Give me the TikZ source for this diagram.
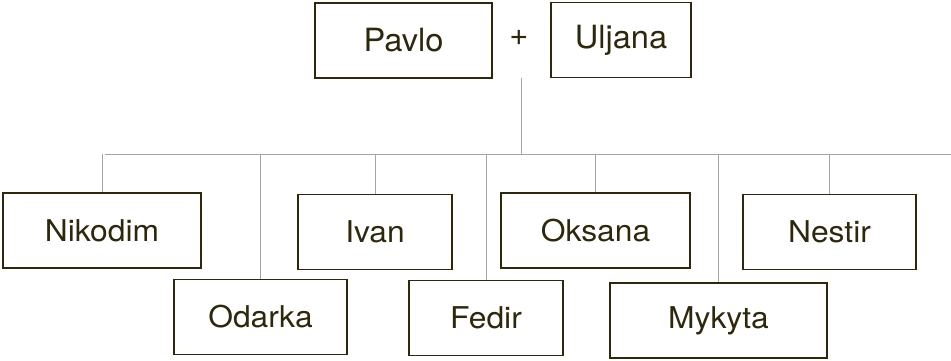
\documentclass[tikz,border=0pt]{standalone}
\usepackage{fontspec}
\setmainfont{TeX Gyre Heros}[FakeStretch=1.06]
\newfontfamily\topfont{TeX Gyre Heros}[FakeStretch=1.02]
\definecolor{ink}{RGB}{45,40,12}
\definecolor{wire}{RGB}{165,165,165}
\begin{document}
\begin{tikzpicture}[x=1pt,y=-1pt,
  person/.style={draw=ink,line width=1.6pt,text=ink,font=\fontsize{30}{36}\selectfont,inner sep=0pt,minimum width=#1,minimum height=75pt},
  parent/.style={person=#1,font=\topfont\fontsize{32}{38}\selectfont},
  conn/.style={draw=wire,line width=1pt}]
\useasboundingbox (0,0) rectangle (951,360);
\node[parent=177pt] (pavlo) at (403.5,40.5) {\raisebox{2pt}{Pavlo}};
\node[parent=140pt] (uljana) at (621,40) {Uljana};
\node[text=ink,font=\topfont\fontsize{32}{38}\selectfont] (plus) at (519,38) {+};
\node[person=198pt] (nikodim) at (102,230.5) {Nikodim};
\node[person=173pt] (odarka) at (260.5,317) {Odarka};
\node[person=154pt] (ivan) at (375,232) {Ivan};
\node[person=154pt] (fedir) at (486,318) {Fedir};
\node[person=189pt] (oksana) at (595.5,230.5) {Oksana};
\node[person=217pt] (mykyta) at (718.5,320.5) {Mykyta};
\node[person=173pt] (nestir) at (829.5,232) {Nestir};
\coordinate (couple) at (521,78);
\coordinate (bus) at (521,154);
\coordinate (busL) at (105,154);
\coordinate (busR) at (951,154);
\draw[conn] (couple) -- (bus);
\draw[conn] (busL) -- (busR);
\draw[conn] (nikodim.north) -- (nikodim.north |- bus);
\draw[conn] (odarka.north) -- (odarka.north |- bus);
\draw[conn] (ivan.north) -- (ivan.north |- bus);
\draw[conn] (fedir.north) -- (fedir.north |- bus);
\draw[conn] (oksana.north) -- (oksana.north |- bus);
\draw[conn] (mykyta.north) -- (mykyta.north |- bus);
\draw[conn] (nestir.north) -- (nestir.north |- bus);
\end{tikzpicture}
\end{document}
